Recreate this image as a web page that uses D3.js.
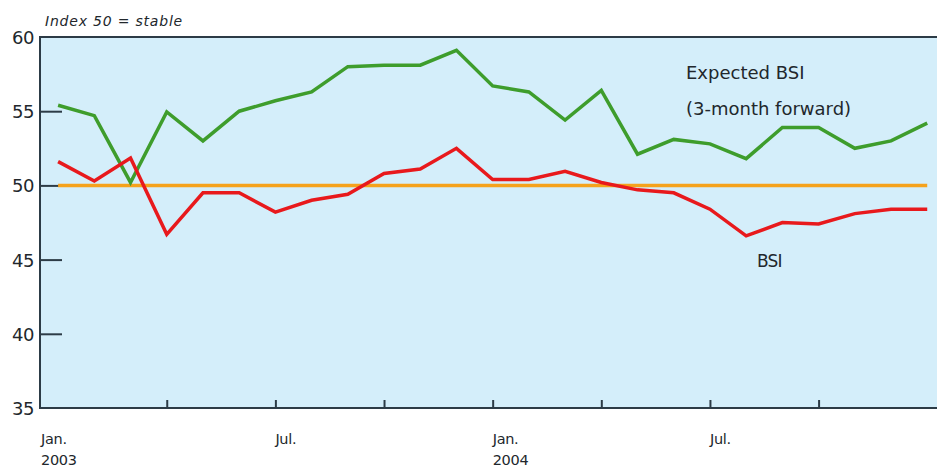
<!DOCTYPE html>
<html>
<head>
<meta charset="utf-8">
<script src="https://cdn.jsdelivr.net/npm/d3@7"></script>
<style>
  html, body { margin: 0; padding: 0; background: #ffffff; }
  svg text { font-family: "DejaVu Sans", "Lato", sans-serif; fill: #22272c; }
</style>
</head>
<body>
<svg id="chart" width="939" height="467"></svg>
<script>
// Monthly observations, Jan 2003 – Jan 2005
const months = d3.range(25);
const bsi = [51.6, 50.3, 51.85, 46.7, 49.5, 49.5, 48.2, 49.0, 49.4, 50.8, 51.1, 52.5,
             50.4, 50.4, 50.95, 50.2, 49.7, 49.5, 48.4, 46.6, 47.5, 47.4, 48.1, 48.4, 48.4];
const expectedBsi = [55.4, 54.7, 50.2, 54.95, 53.0, 55.0, 55.7, 56.3, 58.0, 58.1, 58.1, 59.1,
                     56.7, 56.3, 54.4, 56.4, 52.1, 53.1, 52.8, 51.8, 53.9, 53.9, 52.5, 53.0, 54.2];
const stableLevel = 50;

const yTicks = [35, 40, 45, 50, 55, 60];
const quarterTicks = [3, 6, 9, 12, 15, 18, 21];
const xLabels = [
  { month: 0, lines: ["Jan.", "2003"] },
  { month: 6, lines: ["Jul."] },
  { month: 12, lines: ["Jan.", "2004"] },
  { month: 18, lines: ["Jul."] }
];

const svg = d3.select("#chart");
const plotL = 40, plotR = 937, plotT = 37, plotB = 408;

const x = d3.scaleLinear().domain([-0.5, 24.27]).range([plotL, plotR]);
const y = d3.scaleLinear().domain([35, 60]).range([plotB, plotT]);

// plot background
svg.append("rect")
  .attr("x", plotL).attr("y", plotT)
  .attr("width", plotR - plotL).attr("height", plotB - plotT)
  .attr("fill", "#d4eefa");

const axisColor = "#2c3b46";

// frame: top, left, bottom
svg.append("path")
  .attr("d", `M${plotR},${plotT}H${plotL}V${plotB}H${plotR}`)
  .attr("fill", "none").attr("stroke", axisColor).attr("stroke-width", 2);

// y-axis ticks pointing inward
const yAxis = d3.axisRight(y).tickValues(yTicks.filter(v => v > 35 && v < 60))
  .tickSize(22).tickFormat("");
svg.append("g").attr("transform", `translate(${plotL},0)`).call(yAxis)
  .call(g => g.select(".domain").remove())
  .call(g => g.selectAll("line").attr("stroke", axisColor).attr("stroke-width", 2));

// y labels
svg.append("g").selectAll("text").data(yTicks).join("text")
  .attr("x", 34).attr("y", d => y(d) + 7)
  .attr("text-anchor", "end")
  .style("font-size", "18px")
  .style("letter-spacing", "-0.5px")
  .text(d => d);

// x ticks pointing upward
const xAxis = d3.axisTop(x).tickValues(quarterTicks).tickSize(8).tickFormat("");
svg.append("g").attr("transform", `translate(0,${plotB})`).call(xAxis)
  .call(g => g.select(".domain").remove())
  .call(g => g.selectAll("line").attr("stroke", axisColor).attr("stroke-width", 2));

// x labels: left-aligned at their month; the first one starts at the axis
const xl = svg.append("g").selectAll("g").data(xLabels).join("g")
  .attr("transform", (d, i) => `translate(${i === 0 ? plotL + 1 : x(d.month)},0)`);
xl.selectAll("text").data(d => d.lines).join("text")
  .attr("x", 0).attr("y", (d, i) => 444 + i * 21)
  .style("font-size", "14.5px")
  .style("letter-spacing", "-0.3px")
  .text(d => d);

// unit note
svg.append("text")
  .attr("x", 45).attr("y", 26)
  .style("font-size", "14px").style("font-style", "italic")
  .style("letter-spacing", "0.8px")
  .text("Index 50 = stable");

const line = d3.line().x((d, i) => x(months[i])).y(d => y(d));

// stable reference line
svg.append("line")
  .attr("x1", x(0)).attr("x2", x(24))
  .attr("y1", y(stableLevel)).attr("y2", y(stableLevel))
  .attr("stroke", "#f5a21c").attr("stroke-width", 3.5);

svg.append("path").datum(expectedBsi)
  .attr("d", line).attr("fill", "none")
  .attr("stroke", "#3e9d2c").attr("stroke-width", 3.5).attr("stroke-linejoin", "miter");

svg.append("path").datum(bsi)
  .attr("d", line).attr("fill", "none")
  .attr("stroke", "#e8191c").attr("stroke-width", 3.5).attr("stroke-linejoin", "miter");

// series labels
svg.append("text").attr("x", 686).attr("y", 79).style("font-size", "18px").text("Expected BSI");
svg.append("text").attr("x", 686).attr("y", 115).style("font-size", "18px").text("(3-month forward)");
svg.append("text").attr("x", 757).attr("y", 267).style("font-size", "17px").style("letter-spacing", "-0.8px").text("BSI");
</script>
</body>
</html>
